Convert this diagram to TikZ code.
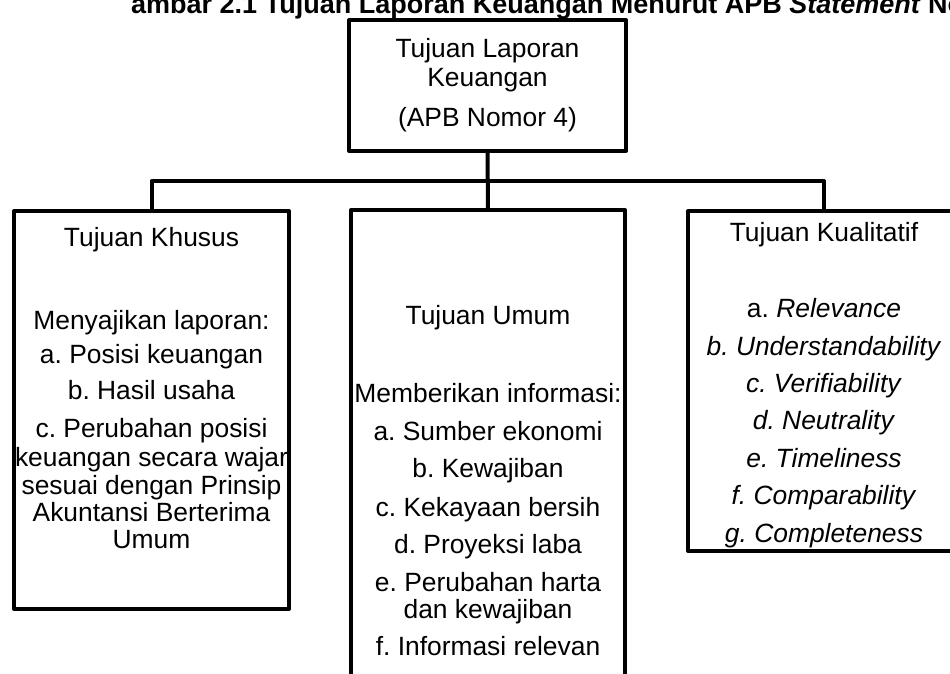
\documentclass[tikz,border=0pt]{standalone}
\usepackage{fontspec}
\setmainfont{Liberation Sans}
\frenchspacing

\begin{document}
\begin{tikzpicture}[x=1pt,y=-1pt,
	kotak/.style={draw,line width=4pt,line join=round,inner sep=0pt,outer sep=0pt},
	garis/.style={line width=4pt,line join=round},
	isi/.style={font=\fontsize{26.4}{28}\selectfont,inner sep=0pt,anchor=base}]
	\useasboundingbox (0,0) rectangle (950,673);

	\node[anchor=base west,inner sep=0pt,font=\fontsize{27}{28}\selectfont\bfseries] (judul) at (131,13) {ambar 2.1 Tujuan Laporan Keuangan Menurut APB \textit{Statement} No};

	% kotak-kotak
	\node[kotak,minimum width=277pt,minimum height=131pt] (puncak) at (487.5,85.5) {};
	\node[kotak,minimum width=275pt,minimum height=398pt] (khusus) at (151.5,410) {};
	\node[kotak,minimum width=274pt,minimum height=490pt] (umum) at (488,455) {};
	\node[kotak,minimum width=272pt,minimum height=340pt] (kualitatif) at (824,381) {};

	% penghubung
	\draw[garis] (puncak.south) -- (umum.north);
	\draw[garis] (khusus.north) -- ++(0,-30) -| (kualitatif.north);

	% teks
	\foreach \y/\t [count=\i] in {57/Tujuan Laporan, 86/Keuangan, 126/(APB Nomor 4)}
		\node[isi] (puncak-\i) at (487.5,\y) {\t};
	\foreach \y/\t [count=\i] in {246/Tujuan Khusus, 329/Menyajikan laporan:, 363/a. Posisi keuangan,
		399/b. Hasil usaha, 437/c. Perubahan posisi, 466/keuangan secara wajar,
		494/sesuai dengan Prinsip, 521/Akuntansi Berterima, 548/Umum}
		\node[isi] (khusus-\i) at (151.5,\y) {\t};
	\foreach \y/\t [count=\i] in {324/Tujuan Umum, 402/Memberikan informasi:, 440/a. Sumber ekonomi,
		477/b. Kewajiban, 516/c. Kekayaan bersih, 553/d. Proyeksi laba,
		591/e. Perubahan harta, 618/dan kewajiban, 655/f. Informasi relevan}
		\node[isi] (umum-\i) at (488,\y) {\t};
	\foreach \y/\t [count=\i] in {241/Tujuan Kualitatif, 317/a. \textit{Relevance}, 355/\textit{b. Understandability},
		392/\textit{c. Verifiability}, 429/\textit{d. Neutrality}, 467/\textit{e. Timeliness},
		504/\textit{f. Comparability}, 542/\textit{g. Completeness}}
		\node[isi] (kualitatif-\i) at (824,\y) {\t};
\end{tikzpicture}
\end{document}
